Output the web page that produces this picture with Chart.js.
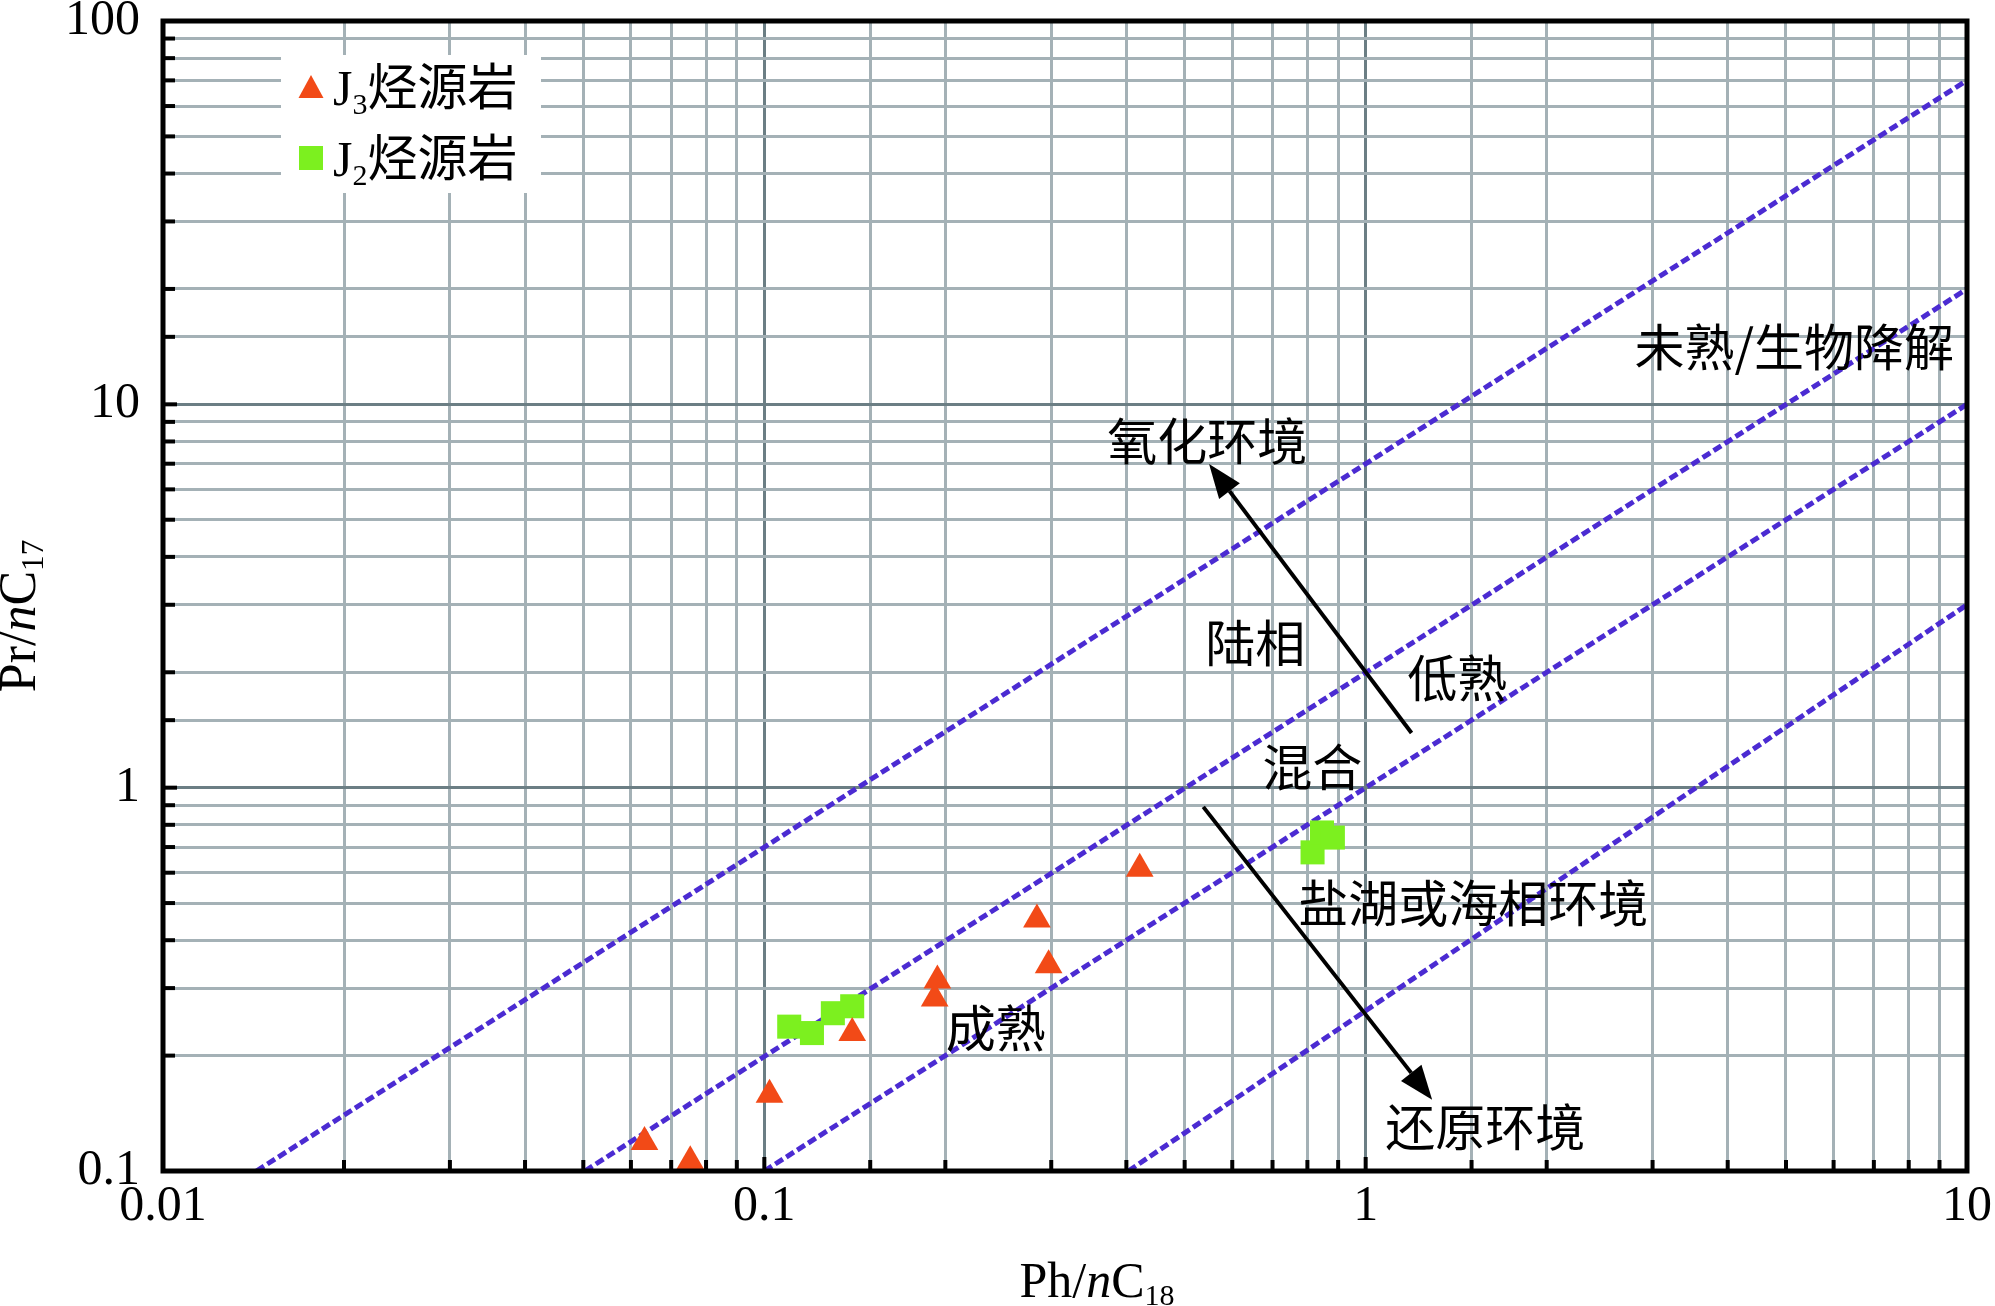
<!DOCTYPE html>
<html>
<head>
<meta charset="utf-8">
<title>Pr/nC17 - Ph/nC18</title>
<script src="https://cdn.jsdelivr.net/npm/chart.js@4.4.1/dist/chart.umd.min.js"></script>
<style>
    html, body { margin: 0; padding: 0; background: #fff; }
    #wrap { width: 1995px; height: 1306px; position: relative; }
</style>
</head>
<body>
<div id="wrap"><canvas id="j_grafico"></canvas></div>
<script>
// J3 source rock samples
var j3Ph = [0.0632, 0.0753, 0.102, 0.140, 0.192, 0.194, 0.284, 0.297, 0.421];
var j3Pr = [0.119, 0.106, 0.158, 0.229, 0.282, 0.314, 0.453, 0.344, 0.614];

// J2 source rock samples
var j2Ph = [0.110, 0.120, 0.130, 0.140, 0.816, 0.846, 0.882];
var j2Pr = [0.238, 0.229, 0.258, 0.269, 0.678, 0.764, 0.741];

// dashed boundary lines, end points
var boundPh = [[0.0143, 10], [0.0503, 10], [0.1, 10], [0.403, 10]];
var boundPr = [[0.1, 70], [0.1, 20], [0.1, 10], [0.1, 3.0]];

var xTicks = [0.01, 0.1, 1, 10];
var yTicks = [0.1, 1, 10, 100];

// region labels (placed at data coordinates)
var noteText = ["未熟/生物降解", "氧化环境", "陆相", "低熟", "混合", "盐湖或海相环境", "成熟", "还原环境"];
var notePh = [5.16, 0.545, 0.655, 1.42, 0.815, 1.51, 0.2425, 1.58];
var notePr = [14.1, 8.04, 2.39, 1.93, 1.13, 0.50, 0.2365, 0.1306];

// arrows: tail -> head
var arrowFrom = [[1.192, 1.389], [0.537, 0.891]];
var arrowTo = [[0.549, 6.99], [1.29, 0.1535]];

var legendSub = ["3", "2"];

var RED = "#f24a17";
var GREEN = "#7cf01f";
var PURPLE = "#4b2bd2";
var SERIF = "'Liberation Serif', 'Times New Roman', serif";
var CJK = "'Noto Sans CJK SC', sans-serif";

function isMajor(v) {
    var l = Math.log10(v);
    return Math.abs(l - Math.round(l)) < 1e-6;
}

function tickLabel(list) {
    return function (value) {
        for (var i = 0; i < list.length; i++) {
            if (Math.abs(value / list[i] - 1) < 1e-6) return String(list[i]);
        }
        return "";
    };
}

function gridColor(c) {
    if (c.tick && isMajor(c.tick.value)) return "#6b7e84";
    return "#a4b1b6";
}

function pts(xs, ys) {
    return xs.map(function (x, i) {
        return { x: x, y: ys[i] };
    });
}

// draws "Ph/" + italic n + "C" + subscript
function drawTitle(ctx, parts, x, y, size) {
    var total = 0;
    parts.forEach(function (p) {
        ctx.font = (p.it ? "italic " : "") + (p.sub ? size * 0.6 : size) + "px " + SERIF;
        p.w = ctx.measureText(p.t).width;
        total += p.w;
    });
    var cx = x - total / 2;
    ctx.textAlign = "left";
    ctx.textBaseline = "alphabetic";
    parts.forEach(function (p) {
        ctx.font = (p.it ? "italic " : "") + (p.sub ? size * 0.6 : size) + "px " + SERIF;
        ctx.fillText(p.t, cx, y + (p.sub ? size * 0.16 : 0));
        cx += p.w;
    });
}

var decor = {
    id: "decor",
    afterDatasetsDraw: function (chart) {
        var ctx = chart.ctx;
        var xs = chart.scales.x;
        var ys = chart.scales.y;
        var a = chart.chartArea;
        ctx.save();

        // inward ticks
        ctx.strokeStyle = "#000";
        ctx.lineWidth = 4;
        xs.ticks.forEach(function (t) {
            var px = xs.getPixelForValue(t.value);
            var len = isMajor(t.value) ? 14 : 11;
            ctx.beginPath();
            ctx.moveTo(px, a.bottom);
            ctx.lineTo(px, a.bottom - len);
            ctx.stroke();
        });
        ys.ticks.forEach(function (t) {
            var py = ys.getPixelForValue(t.value);
            var len = isMajor(t.value) ? 14 : 12;
            ctx.beginPath();
            ctx.moveTo(a.left, py);
            ctx.lineTo(a.left + len, py);
            ctx.stroke();
        });

        // frame
        ctx.lineWidth = 5;
        ctx.strokeRect(a.left, a.top, a.right - a.left, a.bottom - a.top);

        // arrows
        ctx.fillStyle = "#000";
        for (var i = 0; i < arrowFrom.length; i++) {
            var x0 = xs.getPixelForValue(arrowFrom[i][0]);
            var y0 = ys.getPixelForValue(arrowFrom[i][1]);
            var x1 = xs.getPixelForValue(arrowTo[i][0]);
            var y1 = ys.getPixelForValue(arrowTo[i][1]);
            var ang = Math.atan2(y1 - y0, x1 - x0);
            var hl = 34, hw = 13;
            var bx = x1 - hl * Math.cos(ang);
            var by = y1 - hl * Math.sin(ang);
            ctx.lineWidth = 4;
            ctx.beginPath();
            ctx.moveTo(x0, y0);
            ctx.lineTo(bx, by);
            ctx.stroke();
            ctx.beginPath();
            ctx.moveTo(x1, y1);
            ctx.lineTo(bx + hw * Math.sin(ang), by - hw * Math.cos(ang));
            ctx.lineTo(bx - hw * Math.sin(ang), by + hw * Math.cos(ang));
            ctx.closePath();
            ctx.fill();
        }

        // region labels
        ctx.font = "50px " + CJK;
        ctx.textAlign = "center";
        ctx.textBaseline = "middle";
        for (var j = 0; j < noteText.length; j++) {
            ctx.fillText(noteText[j], xs.getPixelForValue(notePh[j]), ys.getPixelForValue(notePr[j]));
        }

        // legend
        var lx = a.left + 118, ly = a.top + 34;
        ctx.fillStyle = "#fff";
        ctx.fillRect(lx, ly, 260, 138);
        var mx = a.left + 148;
        var rows = [a.top + 66, a.top + 137];
        chart.data.datasets.slice(0, 2).forEach(function (ds, k) {
            var cy = rows[k];
            ctx.fillStyle = ds.backgroundColor;
            if (ds.pointStyle === "triangle") {
                ctx.beginPath();
                ctx.moveTo(mx, cy - 12);
                ctx.lineTo(mx + 12.5, cy + 11);
                ctx.lineTo(mx - 12.5, cy + 11);
                ctx.closePath();
                ctx.fill();
            } else {
                ctx.fillRect(mx - 12, cy - 12, 24, 24);
            }
            var tx = mx + 22;
            var base = cy + 18;
            ctx.fillStyle = "#000";
            ctx.textAlign = "left";
            ctx.textBaseline = "alphabetic";
            ctx.font = "50px " + SERIF;
            ctx.fillText("J", tx, base);
            tx += ctx.measureText("J").width;
            ctx.font = "30px " + SERIF;
            ctx.fillText(legendSub[k], tx, base + 9);
            tx += ctx.measureText(legendSub[k]).width;
            ctx.font = "50px " + CJK;
            ctx.fillText(ds.label.replace(/^J\d/, ""), tx, base);
        });

        // axis titles
        ctx.fillStyle = "#000";
        drawTitle(ctx, [{ t: "Ph/" }, { t: "n", it: true }, { t: "C" }, { t: "18", sub: true }], 1097, 1297, 50);
        ctx.save();
        ctx.translate(35, 616);
        ctx.rotate(-Math.PI / 2);
        drawTitle(ctx, [{ t: "Pr/" }, { t: "n", it: true }, { t: "C" }, { t: "17", sub: true }], 0, 0, 52);
        ctx.restore();

        ctx.restore();
    },
};

var datasets = [
    {
        label: "J3烃源岩",
        data: pts(j3Ph, j3Pr),
        pointStyle: "triangle",
        pointRadius: 16,
        pointHoverRadius: 16,
        backgroundColor: RED,
        borderColor: RED,
        pointBorderWidth: 0,
        showLine: false,
    },
    {
        label: "J2烃源岩",
        data: pts(j2Ph, j2Pr),
        pointStyle: "rect",
        pointRadius: 17,
        pointHoverRadius: 17,
        backgroundColor: GREEN,
        borderColor: GREEN,
        pointBorderWidth: 0,
        showLine: false,
    },
];

for (var i = 0; i < boundPh.length; i++) {
    datasets.push({
        label: "line" + i,
        data: pts(boundPh[i], boundPr[i]),
        showLine: true,
        borderColor: PURPLE,
        borderWidth: 5,
        borderDash: [9, 4],
        pointRadius: 0,
        pointHoverRadius: 0,
        fill: false,
        tension: 0,
    });
}

new Chart(document.getElementById("j_grafico"), {
    type: "scatter",
    data: { datasets: datasets },
    options: {
        responsive: true,
        maintainAspectRatio: false,
        animation: false,
        events: [],
        layout: { padding: { left: 0, right: 28, top: 21, bottom: 0 } },
        plugins: {
            legend: { display: false },
            tooltip: { enabled: false },
        },
        scales: {
            x: {
                type: "logarithmic",
                position: "bottom",
                min: 0.01,
                max: 10,
                border: { display: false },
                grid: { color: gridColor, lineWidth: 3, drawTicks: false },
                ticks: {
                    autoSkip: false,
                    maxRotation: 0,
                    padding: 6,
                    color: "#000",
                    font: { family: SERIF, size: 50 },
                    callback: tickLabel(xTicks),
                },
                afterFit: function (s) {
                    s.height = 135;
                    s.paddingLeft = 0;
                    s.paddingRight = 0;
                },
            },
            y: {
                type: "logarithmic",
                position: "left",
                min: 0.1,
                max: 100,
                border: { display: false },
                grid: { color: gridColor, lineWidth: 3, drawTicks: false },
                ticks: {
                    autoSkip: false,
                    padding: 23,
                    color: "#000",
                    font: { family: SERIF, size: 50 },
                    callback: tickLabel(yTicks),
                },
                afterFit: function (s) {
                    s.width = 163;
                    s.paddingTop = 0;
                    s.paddingBottom = 0;
                },
            },
        },
    },
    plugins: [decor],
});
</script>
</body>
</html>
